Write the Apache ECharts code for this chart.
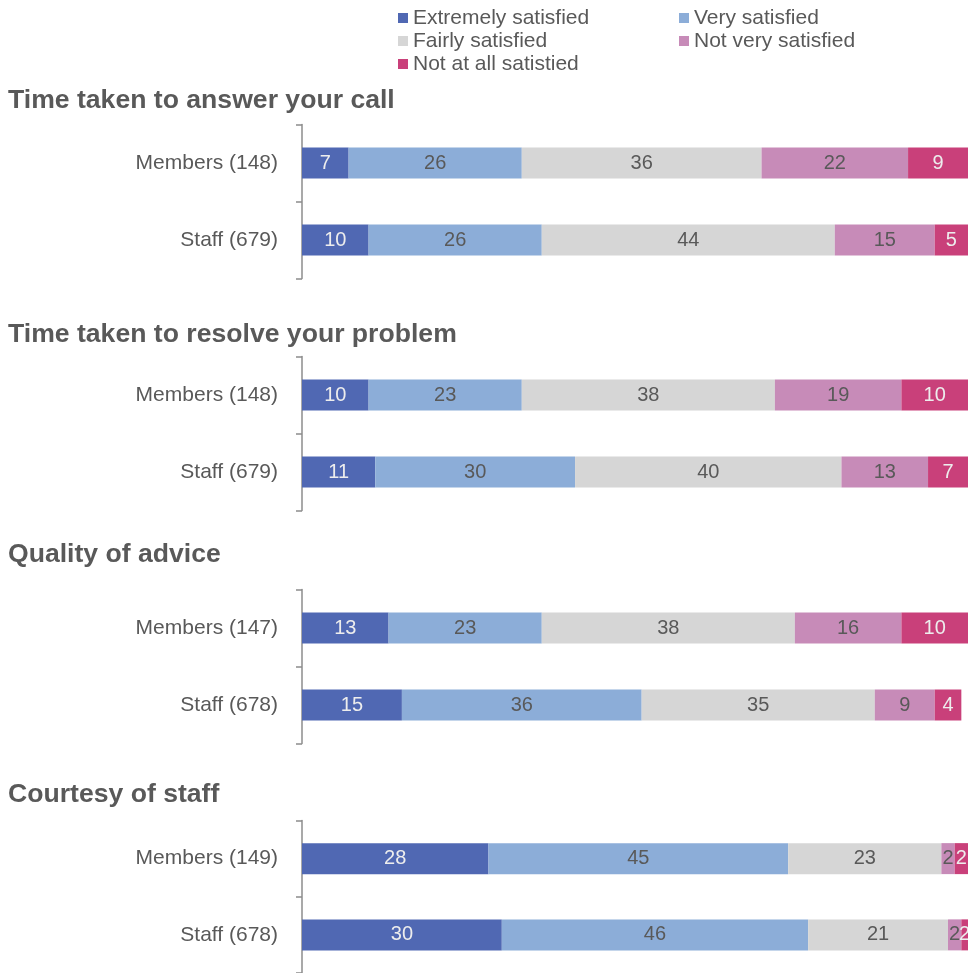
<!DOCTYPE html>
<html>
<head>
<meta charset="utf-8">
<title>Satisfaction with telephone service</title>
<script src="https://cdn.jsdelivr.net/npm/echarts@6/dist/echarts.min.js"></script>
<style>
  html, body { margin: 0; padding: 0; background: #ffffff; }
  #chart { width: 968px; height: 973px; }
</style>
</head>
<body>
<div id="chart"></div>
<script>
// Panel headings, one per question
const panelTitles = [
  'Time taken to answer your call',
  'Time taken to resolve your problem',
  'Quality of advice',
  'Courtesy of staff'
];

// Respondent groups (bases) for each panel
const groupLabels = [
  ['Members (148)', 'Staff (679)'],
  ['Members (148)', 'Staff (679)'],
  ['Members (147)', 'Staff (678)'],
  ['Members (149)', 'Staff (678)']
];

// Response levels, in stacking order
const levels = [
  'Extremely satisfied',
  'Very satisfied',
  'Fairly satisfied',
  'Not very satisfied',
  'Not at all satistied'
];

// Percentages per panel: [members, staff]
const extremelySatisfied = [[7, 10], [10, 11], [13, 15], [28, 30]];
const verySatisfied      = [[26, 26], [23, 30], [23, 36], [45, 46]];
const fairlySatisfied    = [[36, 44], [38, 40], [38, 35], [23, 21]];
const notVerySatisfied   = [[22, 15], [19, 13], [16, 9], [2, 2]];
const notAtAllSatisfied  = [[9, 5], [10, 7], [10, 4], [2, 2]];

const levelValues = [extremelySatisfied, verySatisfied, fairlySatisfied, notVerySatisfied, notAtAllSatisfied];

// Styling
const levelColors = ['#5068B3', '#8CADD8', '#D6D6D6', '#C78BB8', '#C9407A'];
const labelColors = ['#EDEDED', '#595959', '#595959', '#595959', '#EDEDED'];
const textColor = '#595959';
const fontFamily = "'Liberation Sans', Arial, sans-serif";

// Layout of each panel: vertical centre of the first bar, and title centre
const firstBarCentres = [163, 395, 628, 859];
const titleCentres = [101.7, 335.5, 556, 796];
const bandHeight = 77;
const titleFont = 26.6;

const grids = [], xAxes = [], yAxes = [], titles = [], series = [];

panelTitles.forEach((t, p) => {
  grids.push({
    left: 302,
    width: 668,
    top: firstBarCentres[p] - bandHeight / 2,
    height: bandHeight * 2,
    containLabel: false
  });
  xAxes.push({
    gridIndex: p, type: 'value', min: 0, max: 100, show: false
  });
  yAxes.push({
    gridIndex: p,
    type: 'category',
    inverse: true,
    data: groupLabels[p],
    axisLine: { show: true, lineStyle: { color: '#8C8C8C', width: 1.5 } },
    axisTick: { show: true, length: 6, lineStyle: { color: '#8C8C8C', width: 1.5 } },
    axisLabel: { color: textColor, fontSize: 21, fontFamily: fontFamily, margin: 24, interval: 0 },
    splitLine: { show: false }
  });
  titles.push({
    text: t,
    left: 8,
    top: titleCentres[p] - titleFont / 2 - 1,
    padding: 0,
    textStyle: {
      color: textColor, fontSize: titleFont, fontWeight: 'bold',
      fontFamily: fontFamily, lineHeight: titleFont
    }
  });
  levels.forEach((name, l) => {
    series.push({
      type: 'bar',
      name: name,
      xAxisIndex: p,
      yAxisIndex: p,
      stack: 'panel' + p,
      barWidth: 31,
      data: levelValues[l][p],
      itemStyle: { color: levelColors[l] },
      emphasis: { disabled: true },
      label: {
        show: true,
        position: 'inside',
        formatter: '{c}',
        color: labelColors[l],
        fontSize: 20,
        fontFamily: fontFamily
      }
    });
  });
});

const legendText = { color: textColor, fontSize: 21, fontFamily: fontFamily, lineHeight: 22 };

const option = {
  backgroundColor: '#ffffff',
  animation: false,
  title: titles,
  legend: [
    {
      data: [levels[0], levels[2], levels[4]],
      orient: 'vertical', left: 398, top: 7, padding: 0,
      icon: 'rect', itemWidth: 10, itemHeight: 10, itemGap: 1,
      selectedMode: false, textStyle: legendText
    },
    {
      data: [levels[1], levels[3]],
      orient: 'vertical', left: 679, top: 7, padding: 0,
      icon: 'rect', itemWidth: 10, itemHeight: 10, itemGap: 1,
      selectedMode: false, textStyle: legendText
    }
  ],
  grid: grids,
  xAxis: xAxes,
  yAxis: yAxes,
  series: series
};

const chart = echarts.init(document.getElementById('chart'), null, { renderer: 'canvas' });
chart.setOption(option);
</script>
</body>
</html>
